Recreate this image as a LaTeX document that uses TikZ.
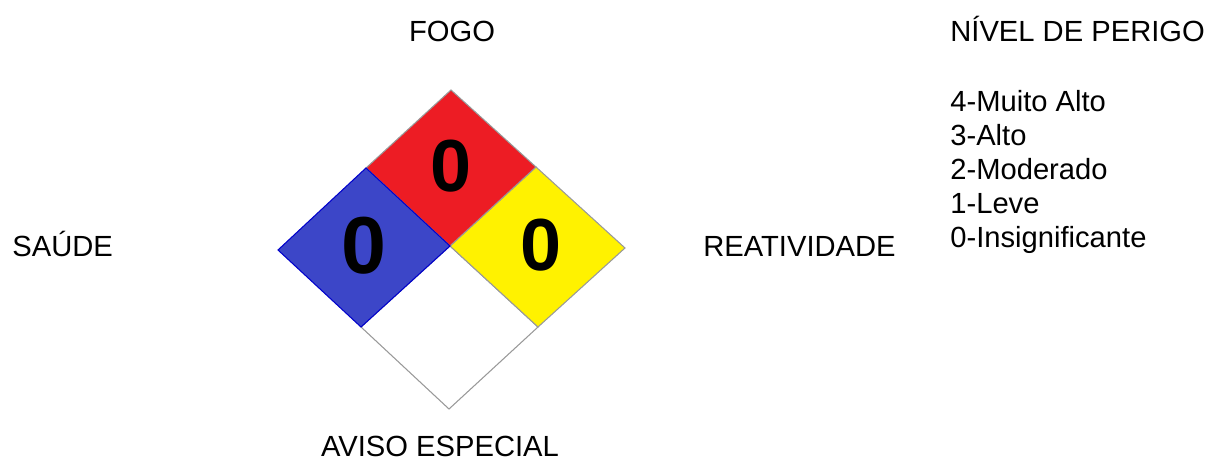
\documentclass[tikz,border=0pt]{standalone}
\usepackage{fontspec}
\setmainfont{Liberation Sans}
\definecolor{fogored}{HTML}{ED1C24}
\definecolor{saudeblue}{HTML}{3C46C8}
\definecolor{reatyellow}{HTML}{FFF200}
\begin{document}
\begin{tikzpicture}[x=0.02cm, y=-0.02cm]

        \tikzstyle{label} = [font=\fontsize{16.6}{19.3}\selectfont, inner sep=0pt]
        \tikzstyle{digit} = [font=\fontsize{42}{42}\selectfont\bfseries, inner sep=0pt]
        \tikzstyle{field} = [draw=gray!80, line width=0.6pt]
        \useasboundingbox (0,0) rectangle (1210,465);

        % corners of the diamond
        \coordinate (top) at (451,90);
        \coordinate (left) at (278,250);
        \coordinate (right) at (625,248);
        \coordinate (bottom) at (449,409);
        \coordinate (centre) at (450,246);
        \coordinate (tl) at (366,168);
        \coordinate (tr) at (536,167);
        \coordinate (bl) at (361,327);
        \coordinate (br) at (538,327);

        % fields
        \filldraw [field, fill=white] (centre) -- (br) -- (bottom) -- (bl) -- cycle;
        \filldraw [field, fill=reatyellow] (centre) -- (tr) -- (right) -- (br) -- cycle;
        \filldraw [field, fill=fogored] (centre) -- (tl) -- (top) -- (tr) -- cycle;
        \filldraw [field, draw=blue!80!black, fill=saudeblue] (centre) -- (tl) -- (left) -- (bl) -- cycle;

        % values
        \node (fire) [digit] at (451,166) {0};
        \node (health) [digit, font=\fontsize{46}{46}\selectfont\bfseries] at (364,246) {0};
        \node (react) [digit] at (541,245) {0};

        % labels
        \node (fogo) [label, anchor=base] at (452,42) {FOGO};
        \node (saude) [label, anchor=base west] at (12,257) {SAÚDE};
        \node (reat) [label, anchor=base west] at (703,257) {REATIVIDADE};
        \node (aviso) [label, anchor=base] at (440,457) {AVISO ESPECIAL};

        % legend
        \node (nivel) [label, anchor=base west] at (950,42) {NÍVEL DE PERIGO};
        \node (n4) [label, anchor=base west] at (950,112) {4-Muito Alto};
        \node (n3) [label, anchor=base west] at (950,146) {3-Alto};
        \node (n2) [label, anchor=base west] at (950,180) {2-Moderado};
        \node (n1) [label, anchor=base west] at (950,214) {1-Leve};
        \node (n0) [label, anchor=base west] at (950,248) {0-Insignificante};

    \end{tikzpicture}
\end{document}
